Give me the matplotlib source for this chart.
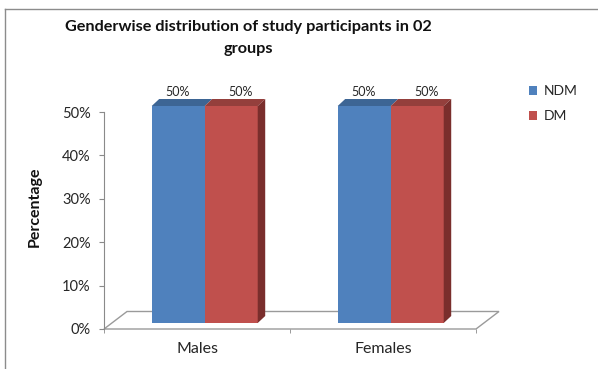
import numpy as np
import matplotlib.pyplot as plt
import matplotlib.transforms as mtransforms
from matplotlib.patches import Polygon, Patch
from matplotlib.lines import Line2D

# data
categories = ['Males', 'Females']
series_names = ['NDM', 'DM']
ndm_values = [50, 50]
dm_values = [50, 50]
y_ticks = [0, 10, 20, 30, 40, 50]
y_tick_labels = [f'{t}%' for t in y_ticks]

title_lines = ['Genderwise distribution of study participants in 02', 'groups']

plt.rcParams['font.family'] = ['Lato', 'DejaVu Sans']

W, H = 598, 369
fig = plt.figure(figsize=(W / 100, H / 100), dpi=100)

# front plane of the "3D" floor
ax = fig.add_axes([104 / W, (H - 329) / H, 372 / W, 217 / H])
ax.set_xlim(-0.5, 1.5)
ax.set_ylim(0, 50)
ax.patch.set_visible(False)
for side in ['top', 'right', 'bottom']:
    ax.spines[side].set_visible(False)
ax.spines['left'].set_color('#8a8a8a')

ax.set_yticks(y_ticks)
ax.set_yticklabels(y_tick_labels)
ax.tick_params(axis='y', length=3.6, color='#8a8a8a', pad=6, labelsize=10.5, labelcolor='#262626')
ax.set_xticks(np.arange(len(categories)))
ax.set_xticklabels(categories)
ax.set_xticks([-0.5, 0.5, 1.5], minor=True)
ax.tick_params(axis='x', which='major', length=0, pad=9.5, labelsize=11.5, labelcolor='#262626')
ax.tick_params(axis='x', which='minor', length=3, color='#8a8a8a')

# depth offsets in pixels (right, up)
floor_depth = (23, 17.5)
bar_front = (7.7, 6)
bar_depth = (7.5, 7)


def disp(x, y, off=(0, 0)):
    X, Y = ax.transData.transform((x, y))
    return (X + off[0], Y + off[1])


ident = mtransforms.IdentityTransform()

# floor outline
floor = [disp(-0.5, 0), disp(1.5, 0),
         disp(1.5, 0, floor_depth), disp(-0.5, 0, floor_depth)]
ax.add_patch(Polygon(floor, closed=True, fill=False, edgecolor='#9a9a9a',
                     lw=1, transform=ident, clip_on=False, zorder=1))

front_shift = mtransforms.ScaledTranslation(bar_front[0] / 100, bar_front[1] / 100,
                                            fig.dpi_scale_trans)

x = np.arange(len(categories))
w = 0.285
front_colors = ['#4F81BD', '#C0504D']
top_colors = ['#3D6594', '#943F3C']
side_colors = ['#7A2E2C', '#7A2E2C']
label_dx = [6.7, 17.4]  # px, where Excel put the value labels

for i, vals in enumerate([ndm_values, dm_values]):
    pos = x - w / 2 + i * w
    bars = ax.bar(pos, vals, w, color=front_colors[i], zorder=3)
    for b, v in zip(bars, vals):
        b.set_transform(ax.transData + front_shift)
        b.set_clip_on(False)
        x0, x1 = b.get_x(), b.get_x() + b.get_width()
        top_off = (bar_front[0] + bar_depth[0], bar_front[1] + bar_depth[1])
        top = [disp(x0, v, bar_front), disp(x1, v, bar_front),
               disp(x1, v, top_off), disp(x0, v, top_off)]
        ax.add_patch(Polygon(top, closed=True, facecolor=top_colors[i], edgecolor='none',
                             transform=ident, clip_on=False, zorder=4))
        if i == 1:
            side = [disp(x1, 0, bar_front), disp(x1, v, bar_front),
                    disp(x1, v, top_off), disp(x1, 0, top_off)]
            ax.add_patch(Polygon(side, closed=True, facecolor=side_colors[i], edgecolor='none',
                                 transform=ident, clip_on=False, zorder=4))
        ax.annotate(f'{v}%', xy=(b.get_x() + b.get_width() / 2, v),
                    xytext=(label_dx[i] * 0.72, 20 * 0.72), textcoords='offset points',
                    ha='center', va='center', fontsize=9, color='#262626',
                    annotation_clip=False)

# title and axis label
fig.text(248 / W, 1 - 27 / H, title_lines[0], ha='center', va='center',
         fontsize=11.7, fontweight='bold', color='#111111')
fig.text(248 / W, 1 - 49 / H, title_lines[1], ha='center', va='center',
         fontsize=11.7, fontweight='bold', color='#111111')
fig.text(35 / W, 1 - 207 / H, 'Percentage', rotation=90, ha='center', va='center',
         fontsize=11.5, fontweight='bold', color='#111111')

# legend
handles = [Patch(facecolor=c, edgecolor='none') for c in front_colors]
fig.legend(handles, series_names, loc='upper left', bbox_to_anchor=(529 / W, 1 - 85 / H),
           frameon=False, borderpad=0, borderaxespad=0, handlelength=0.6, handleheight=0.6,
           handletextpad=0.45, labelspacing=0.95, fontsize=10, labelcolor='#262626')

# chart border (top and left edges visible in the crop)
fig.add_artist(Line2D([5 / W, 1], [1 - 9 / H, 1 - 9 / H], transform=fig.transFigure,
                      color='#8c8c8c', lw=1))
fig.add_artist(Line2D([5 / W, 5 / W], [0, 1 - 9 / H], transform=fig.transFigure,
                      color='#8c8c8c', lw=1))

fig.savefig('out.png', dpi=100)
plt.close(fig)
